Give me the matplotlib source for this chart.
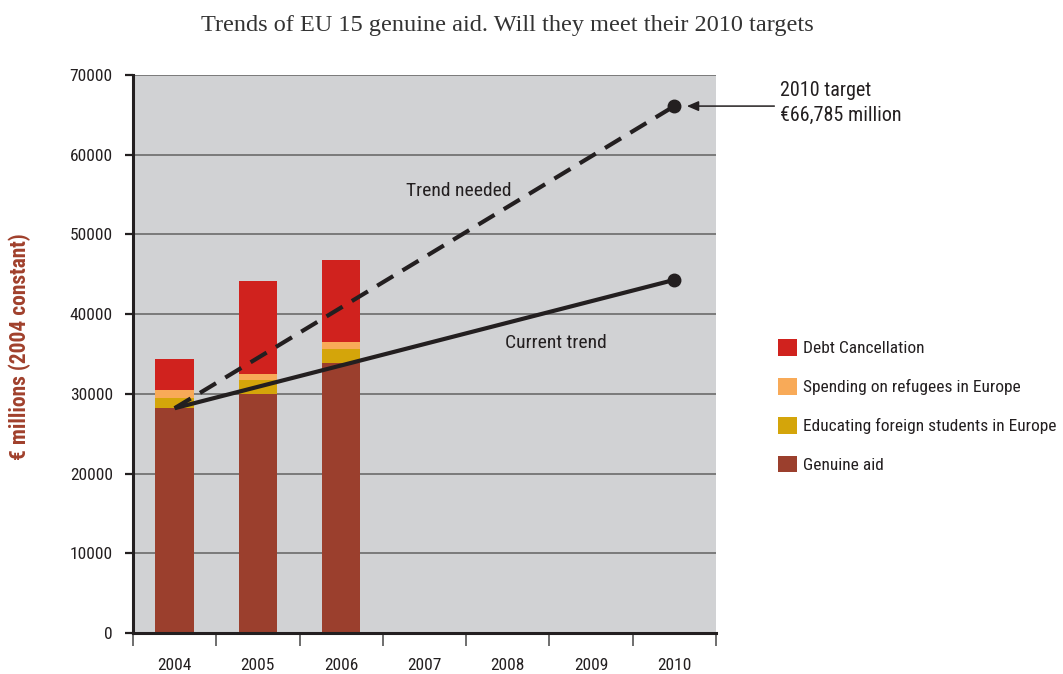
import matplotlib
matplotlib.use("Agg")
import matplotlib.pyplot as plt
from matplotlib import font_manager
from matplotlib.patches import Patch
import numpy as np

# ---------------- data ----------------
years = ["2004", "2005", "2006", "2007", "2008", "2009", "2010"]
bar_years = ["2004", "2005", "2006"]
genuine_aid = [28200, 30000, 33900]
educating_students = [1250, 1750, 1750]
refugees = [1000, 750, 900]
debt_cancellation = [3900, 11700, 10300]

trend_years = ["2004", "2010"]
current_trend = [28200, 44300]
trend_needed = [28200, 66100]

series_names = ["Genuine aid", "Educating foreign students in Europe",
                "Spending on refugees in Europe", "Debt Cancellation"]
series_colors = ["#9b3f2d", "#d4a50a", "#f8aa58", "#d0221e"]

title = "Trends of EU 15 genuine aid. Will they meet their 2010 targets"
ylabel = "€ millions (2004 constant)"
target_label = "2010 target\n€66,785 million"
yticks = [0, 10000, 20000, 30000, 40000, 50000, 60000, 70000]

# ---------------- fonts ----------------
avail = {f.name for f in font_manager.fontManager.ttflist}
def pick(*names):
    for n in names:
        if n in avail:
            return n
    return "DejaVu Sans"
COND = pick("Liberation Sans Narrow", "Roboto Condensed", "Open Sans Condensed", "Liberation Sans")
SERIF = pick("Liberation Serif", "DejaVu Serif")

W, H = 1063, 674
fig = plt.figure(figsize=(W / 100, H / 100), dpi=100)
L, R, T, B = 133, 716, 75, 633
ax = fig.add_axes([L / W, 1 - B / H, (R - L) / W, (B - T) / H])
ax.set_facecolor("#d1d2d4")

x_all = np.arange(len(years))
xb = np.array([years.index(y) for y in bar_years])
stack = [genuine_aid, educating_students, refugees, debt_cancellation]
bottom = np.zeros(len(xb))
for vals, c in zip(stack, series_colors):
    ax.bar(xb, vals, width=0.46, bottom=bottom, color=c, zorder=3, linewidth=0)
    bottom += np.array(vals)

xt = [years.index(y) for y in trend_years]
ink = "#231f20"
ax.plot(xt, current_trend, color=ink, lw=3, zorder=4, solid_capstyle="butt")
ax.plot(xt, trend_needed, color=ink, lw=3, zorder=4, dashes=(4.5, 2.6),
        dash_capstyle="butt")
ax.plot([xt[1]], [current_trend[1]], "o", color=ink, ms=9, zorder=5)
ax.plot([xt[1]], [trend_needed[1]], "o", color=ink, ms=9, zorder=5)

ax.text(3.41, 55400, "Trend needed", fontsize=14, family=COND, color=ink,
        ha="center", va="center", zorder=6)
ax.text(4.58, 36400, "Current trend", fontsize=14, family=COND, color=ink,
        ha="center", va="center", zorder=6)

# target annotation
ax.annotate("", xy=(xt[1], trend_needed[1]),
            xytext=(xt[1] + (772 - 672) / 83.3, trend_needed[1]),
            arrowprops=dict(arrowstyle="-|>,head_length=0.7,head_width=0.3",
                            color=ink, lw=1.1, shrinkA=0, shrinkB=9),
            annotation_clip=False, zorder=6)
fig.text(780 / W, 1 - 103 / H, target_label, fontsize=14.5,
         family=COND, color=ink, ha="left", va="center", linespacing=1.45)

# axes styling
ax.set_xlim(-0.5, 6.5)
ax.set_ylim(0, 70000)
ax.set_yticks(yticks)
ax.set_yticklabels([str(v) for v in yticks], family=COND, fontsize=12.5, color=ink)
ax.yaxis.grid(True, color="#7a7a7a", lw=1.4, zorder=1)
ax.set_axisbelow(True)
ax.tick_params(axis="y", direction="out", length=6, width=1.6, color=ink, pad=8.5)

ax.set_xticks(np.arange(-0.5, 7, 1))
ax.set_xticklabels([])
ax.set_xticks(x_all, minor=True)
ax.set_xticklabels(years, minor=True, family=COND, fontsize=12.5, color=ink)
ax.tick_params(axis="x", which="major", direction="out", length=9, width=1.2, color="#555555")
ax.tick_params(axis="x", which="minor", length=0, pad=18)

for s in ["top", "right"]:
    ax.spines[s].set_visible(False)
for s in ["left", "bottom"]:
    ax.spines[s].set_color(ink)
    ax.spines[s].set_linewidth(2.2)
    ax.spines[s].set_zorder(6)

fig.text(20 / W, 1 - 347 / H, ylabel, rotation=90, family=COND, fontweight="bold",
         fontsize=15.5, color="#a0402c", ha="center", va="center")

fig.text(507 / W, 1 - 25 / H, title, family=SERIF, fontsize=17.5, color="#333333",
         ha="center", va="center")

# legend
handles = [Patch(facecolor=c, edgecolor="none") for c in series_colors][::-1]
labels = series_names[::-1]
fig.legend(handles, labels, loc="upper left",
           bbox_to_anchor=(778 / W, 1 - 339 / H), frameon=False,
           prop=dict(family=COND, size=12.5), handlelength=1.1, handleheight=1.1,
           labelspacing=1.25, handletextpad=0.35, borderpad=0, borderaxespad=0,
           labelcolor=ink)

fig.savefig("out.png", dpi=100, facecolor="white")
